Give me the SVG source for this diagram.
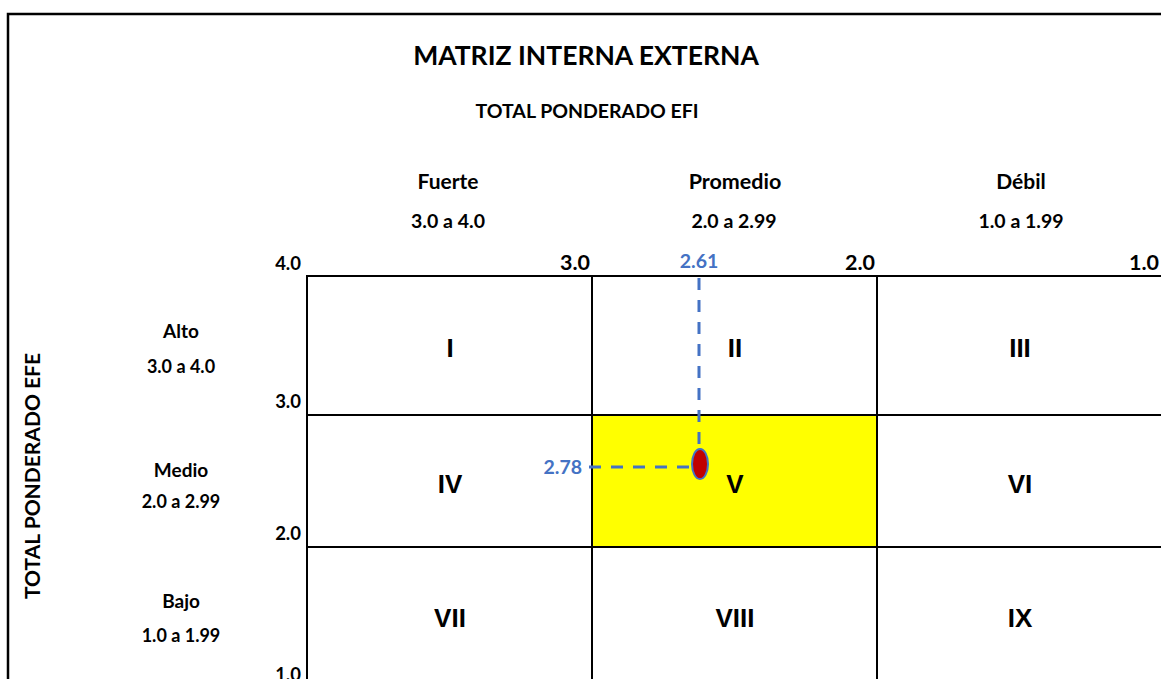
<svg xmlns="http://www.w3.org/2000/svg" width="1161" height="679" viewBox="0 0 1161 679">
<style>
  .t { font-family: Lato, "Liberation Sans", sans-serif; font-weight: bold; fill: #000; text-anchor: middle; }
  .ax { font-family: Lato, "Liberation Sans", sans-serif; font-weight: bold; fill: #000; text-anchor: end; }
  .rn { font-family: "Liberation Sans Narrow", "Liberation Sans", sans-serif; font-stretch: condensed; font-weight: bold; font-size: 26px; fill: #000; text-anchor: middle; }
  .cell { fill: #fff; stroke: #000; stroke-width: 2; }
  .blue { font-family: Lato, "Liberation Sans", sans-serif; font-weight: bold; font-size: 19.5px; fill: #4472C4; }
  .dash { stroke: #4472C4; stroke-width: 3; stroke-dasharray: 12 10; fill: none; }
</style>
<rect x="0" y="0" width="1161" height="679" fill="#fff"/>
<rect x="8" y="14" width="1200" height="700" fill="none" stroke="#000" stroke-width="2.5"/>

<g id="titles">
  <text class="t" x="586" y="65" font-size="26.5">MATRIZ INTERNA EXTERNA</text>
  <text class="t" x="587" y="118" font-size="19.5">TOTAL PONDERADO EFI</text>
  <text class="t" x="448" y="189" font-size="21">Fuerte</text>
  <text class="t" x="448" y="228" font-size="19.5">3.0 a 4.0</text>
  <text class="t" x="735" y="189" font-size="21.5">Promedio</text>
  <text class="t" x="734" y="228" font-size="19.5">2.0 a 2.99</text>
  <text class="t" x="1021" y="189" font-size="21">Débil</text>
  <text class="t" x="1021" y="228" font-size="19.5">1.0 a 1.99</text>
  <text class="t" x="0" y="0" font-size="21" transform="translate(40 476) rotate(-90)">TOTAL PONDERADO EFE</text>
  <text class="t" x="181" y="338" font-size="19">Alto</text>
  <text class="t" x="181" y="373" font-size="18">3.0 a 4.0</text>
  <text class="t" x="181" y="477" font-size="19">Medio</text>
  <text class="t" x="181" y="508" font-size="18">2.0 a 2.99</text>
  <text class="t" x="181" y="608" font-size="19">Bajo</text>
  <text class="t" x="181" y="642" font-size="18">1.0 a 1.99</text>
</g>

<g id="axis-labels">
  <text class="ax" x="301" y="270" font-size="18.5">4.0</text>
  <text class="ax" x="590" y="270" font-size="21.5">3.0</text>
  <text class="ax" x="875" y="270" font-size="21.5">2.0</text>
  <text class="ax" x="1159" y="270" font-size="21.5">1.0</text>
  <text class="ax" x="301" y="408" font-size="18.5">3.0</text>
  <text class="ax" x="301" y="540" font-size="18.5">2.0</text>
  <text class="ax" x="301" y="681" font-size="18.5">1.0</text>
</g>

<g id="cell-I"><rect class="cell" x="307" y="276" width="285" height="139"/><text class="rn" x="450" y="357">I</text></g>
<g id="cell-II"><rect class="cell" x="592" y="276" width="285" height="139"/><text class="rn" x="735" y="357">II</text></g>
<g id="cell-III"><rect class="cell" x="877" y="276" width="300" height="139"/><text class="rn" x="1020" y="357">III</text></g>
<g id="cell-IV"><rect class="cell" x="307" y="415" width="285" height="132"/><text class="rn" x="450" y="493">IV</text></g>
<g id="cell-V"><rect class="cell" x="592" y="415" width="285" height="132" style="fill:#FFFF00"/><text class="rn" x="735" y="493">V</text></g>
<g id="cell-VI"><rect class="cell" x="877" y="415" width="300" height="132"/><text class="rn" x="1020" y="493">VI</text></g>
<g id="cell-VII"><rect class="cell" x="307" y="547" width="285" height="150"/><text class="rn" x="450" y="627">VII</text></g>
<g id="cell-VIII"><rect class="cell" x="592" y="547" width="285" height="150"/><text class="rn" x="735" y="627">VIII</text></g>
<g id="cell-IX"><rect class="cell" x="877" y="547" width="300" height="150"/><text class="rn" x="1020" y="627">IX</text></g>

<g id="connectors">
  <line class="dash" x1="699" y1="278" x2="699" y2="450"/>
  <line class="dash" x1="589" y1="467" x2="692" y2="467"/>
</g>

<g id="point">
  <ellipse cx="700" cy="464" rx="8" ry="15" fill="#C00000" stroke="#4472C4" stroke-width="2"/>
  <text class="blue" x="699" y="268" text-anchor="middle">2.61</text>
  <text class="blue" x="582" y="474" text-anchor="end">2.78</text>
</g>
</svg>
